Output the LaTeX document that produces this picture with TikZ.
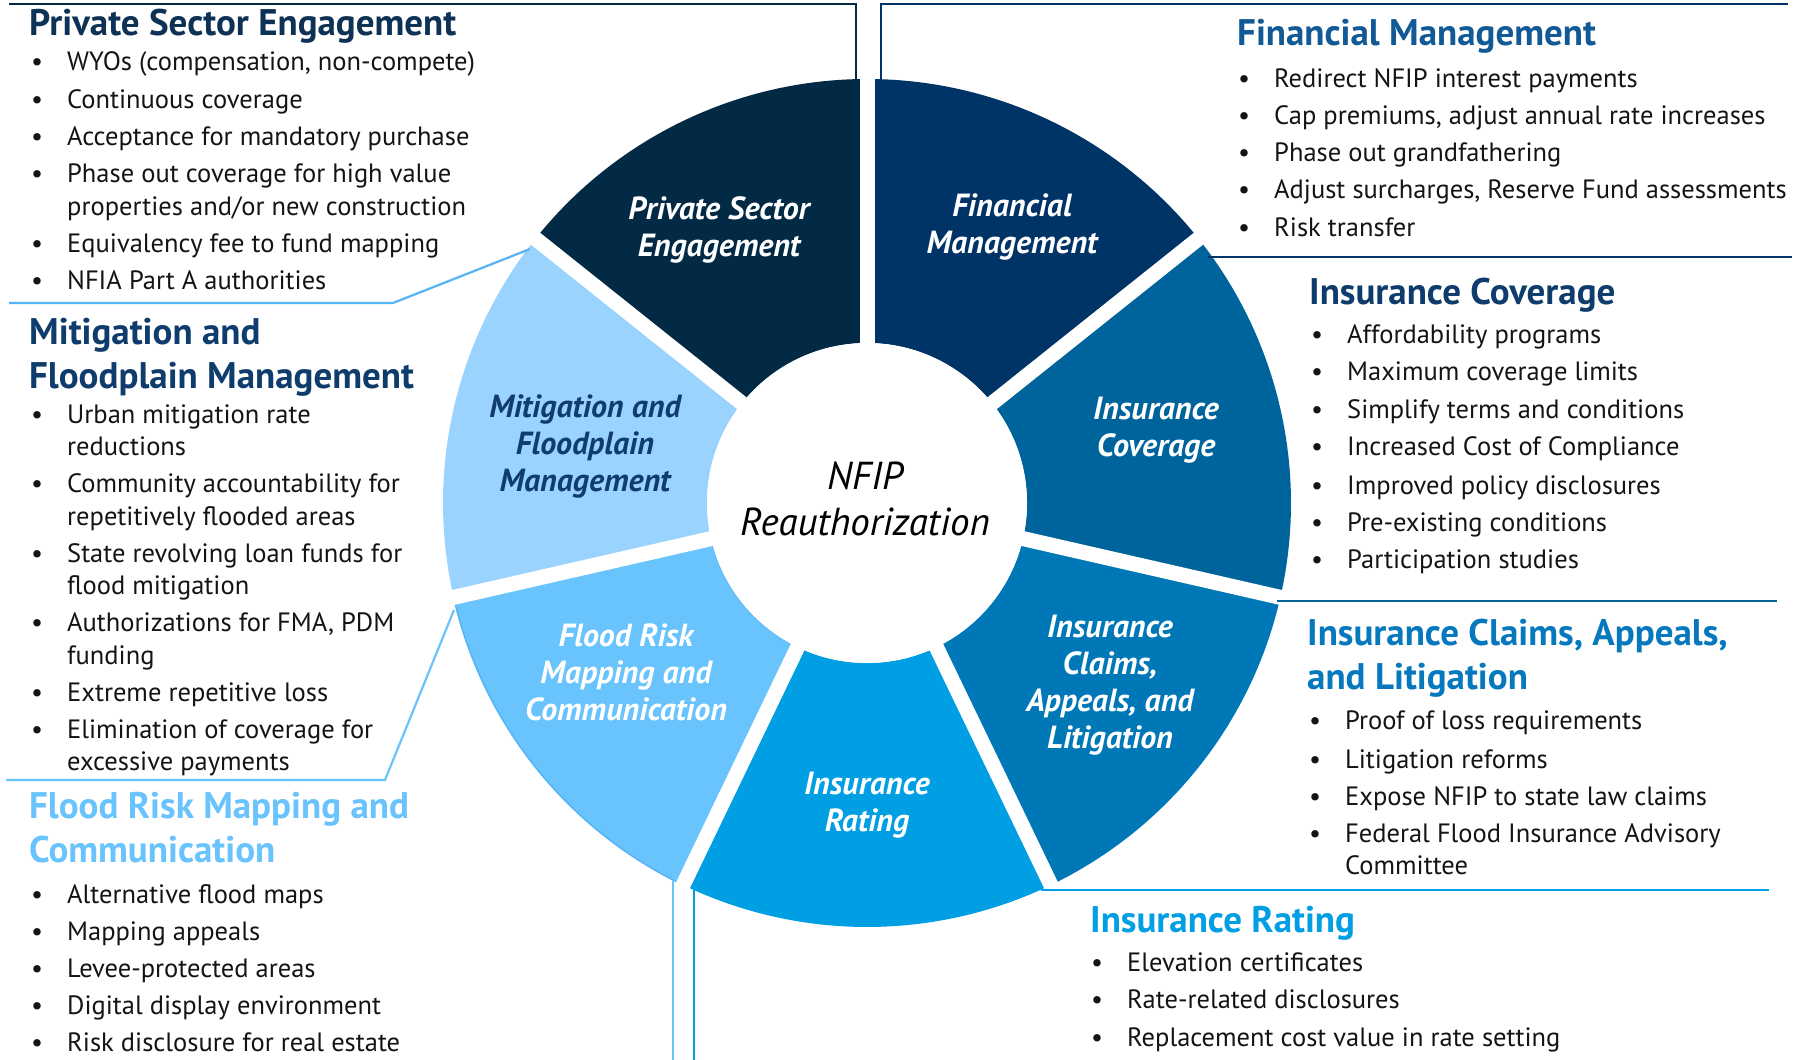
\documentclass[tikz,border=0pt]{standalone}
\usepackage{fontspec}
\setmainfont{PT Sans}
\usepackage{xcolor}

\definecolor{privc}{RGB}{3,42,69}
\definecolor{finc}{RGB}{0,51,102}
\definecolor{covc}{RGB}{0,100,156}
\definecolor{clmc}{RGB}{0,120,184}
\definecolor{ratc}{RGB}{0,158,227}
\definecolor{fldc}{RGB}{105,195,252}
\definecolor{fldedge}{RGB}{85,180,245}
\definecolor{mitc}{RGB}{154,211,253}
\definecolor{mittxt}{RGB}{16,60,110}
\definecolor{hdprv}{RGB}{14,50,85}
\definecolor{hdfin}{RGB}{18,90,150}
\definecolor{hddark}{RGB}{14,60,108}
\definecolor{hdclm}{RGB}{5,120,190}
\definecolor{bodytxt}{RGB}{20,20,20}

\tikzstyle{head}=[anchor=base west,inner sep=0pt,font=\fontsize{37}{40}\selectfont\bfseries]
\tikzstyle{item}=[anchor=base west,inner sep=0pt,text=bodytxt,font=\fontsize{26.5}{30}\selectfont]
\tikzstyle{sect}=[align=center,inner sep=0pt,text=white,font=\fontsize{32}{37}\selectfont\bfseries\itshape]
\tikzstyle{frame}=[line width=2.2pt]
\tikzstyle{gap}=[white,line width=15pt]

\newcommand{\bitem}{\llap{\textbullet\hspace{24pt}}}

\begin{document}
\begin{tikzpicture}[x=1pt,y=-1pt]

  \useasboundingbox (0,0) rectangle (1813,1060);
  \fill[white] (0,0) rectangle (1813,1060);

  % the wheel, angles counted the usual way round
  \begin{scope}[shift={(867,503)},y=1pt]
    \fill[privc] (90:424) arc[start angle=90,end angle=141.43,radius=424]
      -- (141.43:160) arc[start angle=141.43,end angle=90,radius=160] -- cycle;
    \fill[finc] (38.57:424) arc[start angle=38.57,end angle=90,radius=424]
      -- (90:160) arc[start angle=90,end angle=38.57,radius=160] -- cycle;
    \fill[covc] (-12.86:424) arc[start angle=-12.86,end angle=38.57,radius=424]
      -- (38.57:160) arc[start angle=38.57,end angle=-12.86,radius=160] -- cycle;
    \fill[clmc] (-64.29:424) arc[start angle=-64.29,end angle=-12.86,radius=424]
      -- (-12.86:160) arc[start angle=-12.86,end angle=-64.29,radius=160] -- cycle;
    \fill[ratc] (-115.71:424) arc[start angle=-115.71,end angle=-64.29,radius=424]
      -- (-64.29:160) arc[start angle=-64.29,end angle=-115.71,radius=160] -- cycle;
    \filldraw[fill=fldc,draw=fldedge,line width=1.5pt] (192.86:424) arc[start angle=192.86,end angle=244.29,radius=424]
      -- (244.29:160) arc[start angle=244.29,end angle=192.86,radius=160] -- cycle;
    \fill[mitc] (141.43:424) arc[start angle=141.43,end angle=192.86,radius=424]
      -- (192.86:160) arc[start angle=192.86,end angle=141.43,radius=160] -- cycle;

    \draw[gap] (0,0) -- (90:440);
    \draw[gap] (0,0) -- (38.57:440);
    \draw[gap] (0,0) -- (-12.86:440);
    \draw[gap] (0,0) -- (-64.29:440);
    \draw[gap] (0,0) -- (-115.71:440);
    \draw[gap] (0,0) -- (192.86:440);
    \draw[gap] (0,0) -- (141.43:440);
    \fill[white] (0,0) circle[radius=160];
  \end{scope}

  \node[align=center,inner sep=0pt,font=\fontsize{39}{46}\selectfont\itshape] (hub) at (865,499) {NFIP\\Reauthorization};

  \node[sect] (sPS) at (719,230) {Private Sector\\Engagement};
  \node[sect] (sFM) at (1012,227) {Financial\\Management};
  \node[sect] (sIC) at (1156,430) {Insurance\\Coverage};
  \node[sect] (sCL) at (1110,685) {Insurance\\Claims,\\Appeals, and\\Litigation};
  \node[sect] (sIR) at (867,805) {Insurance\\Rating};
  \node[sect] (sFR) at (626,672) {Flood Risk\\Mapping and\\Communication};
  \node[sect,text=mittxt] (sMF) at (585,447) {Mitigation and\\Floodplain\\Management};

  % frames round the lists
  \coordinate (ps0) at (9,4);
  \coordinate (ps1) at (856,4);
  \coordinate (ps2) at (856,80);
  \draw[frame,privc] (ps0) -- (ps1) -- (ps2);

  \coordinate (fm0) at (881,80);
  \coordinate (fm1) at (881,4);
  \coordinate (fm2) at (1788,4);
  \draw[frame,finc] (fm0) -- (fm1) -- (fm2);

  \coordinate (ic0) at (1208,257);
  \coordinate (ic1) at (1792,257);
  \draw[frame,finc] (ic0) -- (ic1);

  \coordinate (cl0) at (1277,601);
  \coordinate (cl1) at (1777,601);
  \draw[frame,covc] (cl0) -- (cl1);

  \coordinate (ir0) at (1041,890);
  \coordinate (ir1) at (1769,890);
  \draw[frame,ratc] (ir0) -- (ir1);
  \coordinate (ir2) at (694,890);
  \coordinate (ir3) at (694,1060);
  \draw[frame,ratc] (ir2) -- (ir3);

  \coordinate (fr0) at (673,880);
  \coordinate (fr1) at (673,1060);
  \draw[frame,fldc] (fr0) -- (fr1);

  \coordinate (mf0) at (9,303);
  \coordinate (mf1) at (393,303);
  \coordinate (mf2) at (530,249);
  \draw[frame,fldedge] (mf0) -- (mf1) -- (mf2);

  \coordinate (fr2) at (6,780);
  \coordinate (fr3) at (385,780);
  \coordinate (fr4) at (454,610);
  \draw[frame,fldc] (fr2) -- (fr3) -- (fr4);

  % Private Sector Engagement
  \node[head,text=hdprv] (hPS) at (29,35) {Private Sector Engagement};
  \node[item] (ps1t) at (67,70) {\bitem WYOs (compensation, non-compete)};
  \node[item] (ps2t) at (67,108) {\bitem Continuous coverage};
  \node[item] (ps3t) at (67,145) {\bitem Acceptance for mandatory purchase};
  \node[item] (ps4t) at (67,182) {\bitem Phase out coverage for high value};
  \node[item] (ps4b) at (67,215) {properties and/or new construction};
  \node[item] (ps5t) at (67,252) {\bitem Equivalency fee to fund mapping};
  \node[item] (ps6t) at (67,289) {\bitem NFIA Part A authorities};

  % Financial Management
  \node[head,text=hdfin] (hFM) at (1237,45) {Financial Management};
  \node[item] (fm1t) at (1274,87) {\bitem Redirect NFIP interest payments};
  \node[item] (fm2t) at (1274,124) {\bitem Cap premiums, adjust annual rate increases};
  \node[item] (fm3t) at (1274,161) {\bitem Phase out grandfathering};
  \node[item] (fm4t) at (1274,198) {\bitem Adjust surcharges, Reserve Fund assessments};
  \node[item] (fm5t) at (1274,236) {\bitem Risk transfer};

  % Insurance Coverage
  \node[head,text=hddark] (hIC) at (1309,304) {Insurance Coverage};
  \node[item] (ic1t) at (1347,343) {\bitem Affordability programs};
  \node[item] (ic2t) at (1347,380) {\bitem Maximum coverage limits};
  \node[item] (ic3t) at (1347,418) {\bitem Simplify terms and conditions};
  \node[item] (ic4t) at (1347,455) {\bitem Increased Cost of Compliance};
  \node[item] (ic5t) at (1347,494) {\bitem Improved policy disclosures};
  \node[item] (ic6t) at (1347,531) {\bitem Pre-existing conditions};
  \node[item] (ic7t) at (1347,568) {\bitem Participation studies};

  % Insurance Claims, Appeals, and Litigation
  \node[head,text=hdclm] (hCL) at (1307,645) {Insurance Claims, Appeals,};
  \node[head,text=hdclm] (hCLb) at (1307,689) {and Litigation};
  \node[item] (cl1t) at (1345,729) {\bitem Proof of loss requirements};
  \node[item] (cl2t) at (1345,768) {\bitem Litigation reforms};
  \node[item] (cl3t) at (1345,805) {\bitem Expose NFIP to state law claims};
  \node[item] (cl4t) at (1345,842) {\bitem Federal Flood Insurance Advisory};
  \node[item] (cl4b) at (1345,874) {Committee};

  % Insurance Rating
  \node[head,text=ratc] (hIR) at (1090,932) {Insurance Rating};
  \node[item] (ir1t) at (1127,971) {\bitem Elevation certificates};
  \node[item] (ir2t) at (1127,1008) {\bitem Rate-related disclosures};
  \node[item] (ir3t) at (1127,1046) {\bitem Replacement cost value in rate setting};

  % Mitigation and Floodplain Management
  \node[head,text=hddark] (hMF) at (29,344) {Mitigation and};
  \node[head,text=hddark] (hMFb) at (29,388) {Floodplain Management};
  \node[item] (mf1t) at (67,423) {\bitem Urban mitigation rate};
  \node[item] (mf1b) at (67,455) {reductions};
  \node[item] (mf2t) at (67,492) {\bitem Community accountability for};
  \node[item] (mf2b) at (67,525) {repetitively flooded areas};
  \node[item] (mf3t) at (67,562) {\bitem State revolving loan funds for};
  \node[item] (mf3b) at (67,594) {flood mitigation};
  \node[item] (mf4t) at (67,631) {\bitem Authorizations for FMA, PDM};
  \node[item] (mf4b) at (67,664) {funding};
  \node[item] (mf5t) at (67,701) {\bitem Extreme repetitive loss};
  \node[item] (mf6t) at (67,738) {\bitem Elimination of coverage for};
  \node[item] (mf6b) at (67,770) {excessive payments};

  % Flood Risk Mapping and Communication
  \node[head,text=fldc] (hFR) at (29,818) {Flood Risk Mapping and};
  \node[head,text=fldc] (hFRb) at (29,862) {Communication};
  \node[item] (fr1t) at (67,903) {\bitem Alternative flood maps};
  \node[item] (fr2t) at (67,940) {\bitem Mapping appeals};
  \node[item] (fr3t) at (67,977) {\bitem Levee-protected areas};
  \node[item] (fr4t) at (67,1014) {\bitem Digital display environment};
  \node[item] (fr5t) at (67,1051) {\bitem Risk disclosure for real estate};

\end{tikzpicture}
\end{document}
